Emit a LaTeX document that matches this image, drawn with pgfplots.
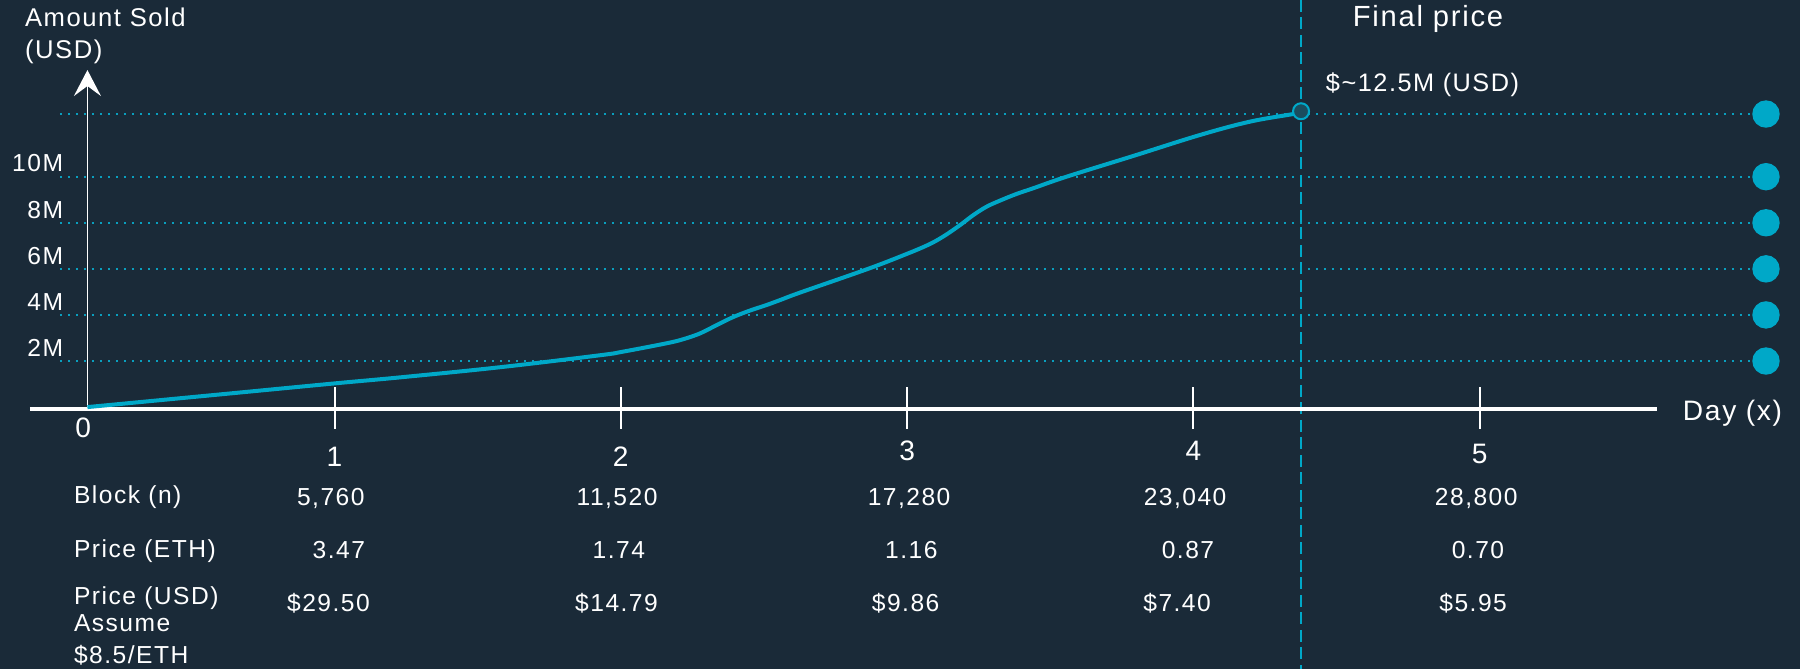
\documentclass[border=0pt]{standalone}
\usepackage{pgfplots}
\pgfplotsset{compat=1.18}
\usepackage{fontspec}
\setmainfont{Liberation Sans}[LetterSpace=6]
\usetikzlibrary{arrows.meta}
\definecolor{bgc}{HTML}{1A2A38}
\definecolor{cy}{HTML}{00A8C8}
\definecolor{cyg}{HTML}{0A9FBE}
\definecolor{cyfill}{HTML}{1A4D5E}
\newcommand{\fs}[1]{\fontsize{#1}{#1}\selectfont\color{white}}
\newcommand{\tld}{\char"007E\relax}
\tikzset{lb/.style={text=white, inner sep=0pt, outer sep=0pt}}
\begin{document}
\begin{tikzpicture}
\useasboundingbox (0,0) rectangle (18cm,6.69cm);
\fill[bgc] (0,0) rectangle (18cm,6.69cm);
\begin{axis}[
  width=18cm, height=6.69cm, scale only axis,
  xmin=-0.1684, xmax=6.1188, ymin=-11.367, ymax=17.669,
  hide axis, clip=false,
]
% dotted gridlines
\addplot[cyg, line width=0.22mm, dash pattern=on 0.22mm off 0.58mm, forget plot] coordinates {(0.041,2) (5.95,2)};
\addplot[cyg, line width=0.22mm, dash pattern=on 0.22mm off 0.58mm, forget plot] coordinates {(0.041,4) (5.95,4)};
\addplot[cyg, line width=0.22mm, dash pattern=on 0.22mm off 0.58mm, forget plot] coordinates {(0.041,6) (5.95,6)};
\addplot[cyg, line width=0.22mm, dash pattern=on 0.22mm off 0.58mm, forget plot] coordinates {(0.041,8) (5.95,8)};
\addplot[cyg, line width=0.22mm, dash pattern=on 0.22mm off 0.58mm, forget plot] coordinates {(0.041,10) (5.95,10)};
\addplot[cyg, line width=0.22mm, dash pattern=on 0.22mm off 0.58mm, forget plot] coordinates {(0.041,12.72) (5.95,12.72)};
% right dots
\addplot[only marks, mark=*, mark size=1.3mm, color=cy, forget plot] coordinates {(6.0,2) (6.0,4) (6.0,6) (6.0,8) (6.0,10) (6.0,12.72)};
% vertical dashed final line
\draw[cy, line width=0.2mm, dash pattern=on 1.2mm off 0.55mm] (axis cs:4.376,17.669) -- (axis cs:4.376,-11.367);
% x axis
\draw[white, line width=0.4mm] (axis cs:-0.064,-0.07) -- (axis cs:5.62,-0.07);
% ticks
\draw[white, line width=0.2mm] (axis cs:1,0.87) -- (axis cs:1,-0.95);
\draw[white, line width=0.2mm] (axis cs:2,0.87) -- (axis cs:2,-0.95);
\draw[white, line width=0.2mm] (axis cs:3,0.87) -- (axis cs:3,-0.95);
\draw[white, line width=0.2mm] (axis cs:4,0.87) -- (axis cs:4,-0.95);
\draw[white, line width=0.2mm] (axis cs:5,0.87) -- (axis cs:5,-0.95);
% y axis with arrow
\draw[white, line width=0.17mm, -{Stealth[length=2.6mm, width=2.7mm, inset=1.0mm]}] (axis cs:0.137,-0.07) -- (axis cs:0.137,14.63);
% curve
\addplot[cy, line width=0.4mm, smooth, tension=0.6, forget plot] coordinates {
(0.137,0) (0.6,0.55) (1.002,1.03) (1.229,1.29) (1.578,1.73) (1.927,2.25) (2.005,2.40)
(2.160,2.77) (2.219,2.95) (2.277,3.20) (2.335,3.56) (2.393,3.91) (2.451,4.19) (2.509,4.43) (2.568,4.70) (2.626,4.97)
(2.859,5.98) (2.975,6.53) (3.068,7.01) (3.126,7.40) (3.185,7.90) (3.232,8.34) (3.278,8.70) (3.324,8.96) (3.382,9.25) (3.441,9.50) (3.557,10.0)
(3.790,10.90) (4.023,11.81) (4.198,12.39) (4.349,12.72) (4.376,12.80)};
% final point circle
\addplot[only marks, mark=*, mark size=0.8mm, mark options={draw=cy, fill=cyfill, line width=0.2mm}, forget plot] coordinates {(4.376,12.84)};
% y title
\node[lb, anchor=base west] at (axis cs:-0.081,16.54) {\fs{7.3}Amount Sold};
\node[lb, anchor=base west] at (axis cs:-0.081,15.14) {\fs{7.3}(USD)};
% y tick labels
\node[lb, anchor=base east] at (axis cs:0.0517,10.22) {\fs{7}10M};
\node[lb, anchor=base east] at (axis cs:0.0517,8.19) {\fs{7}8M};
\node[lb, anchor=base east] at (axis cs:0.0517,6.21) {\fs{7}6M};
\node[lb, anchor=base east] at (axis cs:0.0517,4.21) {\fs{7}4M};
\node[lb, anchor=base east] at (axis cs:0.0517,2.19) {\fs{7}2M};
% x tick labels
\node[lb, anchor=base] at (axis cs:0.122,-1.34) {\fs{8}0};
\node[lb, anchor=base] at (axis cs:1.0,-2.59) {\fs{8}1};
\node[lb, anchor=base] at (axis cs:2.0,-2.59) {\fs{8}2};
\node[lb, anchor=base] at (axis cs:3.0,-2.30) {\fs{8}3};
\node[lb, anchor=base] at (axis cs:4.0,-2.30) {\fs{8}4};
\node[lb, anchor=base] at (axis cs:5.0,-2.43) {\fs{8}5};
\node[lb, anchor=base west] at (axis cs:5.710,-0.59) {\fs{8}Day (x)};
% annotations
\node[lb, anchor=base west] at (axis cs:4.557,16.54) {\fs{8.3}Final price};
\node[lb, anchor=base west] at (axis cs:4.463,13.69) {\fs{7.2}\$\tld12.5M (USD)};
% row labels
\node[lb, anchor=base west] at (axis cs:0.0902,-4.20) {\fs{7}Block (n)};
\node[lb, anchor=base west] at (axis cs:0.0902,-6.52) {\fs{7}Price (ETH)};
\node[lb, anchor=base west] at (axis cs:0.0902,-8.55) {\fs{7}Price (USD)};
\node[lb, anchor=base west] at (axis cs:0.0902,-9.75) {\fs{7}Assume};
\node[lb, anchor=base west] at (axis cs:0.0902,-11.12) {\fs{7}\$8.5/ETH};
% row values
\node[lb, anchor=base] at (axis cs:0.987,-4.25) {\fs{7}5,760};
\node[lb, anchor=base] at (axis cs:1.987,-4.25) {\fs{7}11,520};
\node[lb, anchor=base] at (axis cs:3.007,-4.25) {\fs{7}17,280};
\node[lb, anchor=base] at (axis cs:3.971,-4.25) {\fs{7}23,040};
\node[lb, anchor=base] at (axis cs:4.988,-4.25) {\fs{7}28,800};
\node[lb, anchor=base] at (axis cs:1.015,-6.56) {\fs{7}3.47};
\node[lb, anchor=base] at (axis cs:1.993,-6.56) {\fs{7}1.74};
\node[lb, anchor=base] at (axis cs:3.015,-6.56) {\fs{7}1.16};
\node[lb, anchor=base] at (axis cs:3.981,-6.56) {\fs{7}0.87};
\node[lb, anchor=base] at (axis cs:4.994,-6.56) {\fs{7}0.70};
\node[lb, anchor=base] at (axis cs:0.979,-8.88) {\fs{7}\$29.50};
\node[lb, anchor=base] at (axis cs:1.985,-8.88) {\fs{7}\$14.79};
\node[lb, anchor=base] at (axis cs:2.995,-8.88) {\fs{7}\$9.86};
\node[lb, anchor=base] at (axis cs:3.943,-8.88) {\fs{7}\$7.40};
\node[lb, anchor=base] at (axis cs:4.977,-8.88) {\fs{7}\$5.95};
\end{axis}
\end{tikzpicture}
\end{document}
